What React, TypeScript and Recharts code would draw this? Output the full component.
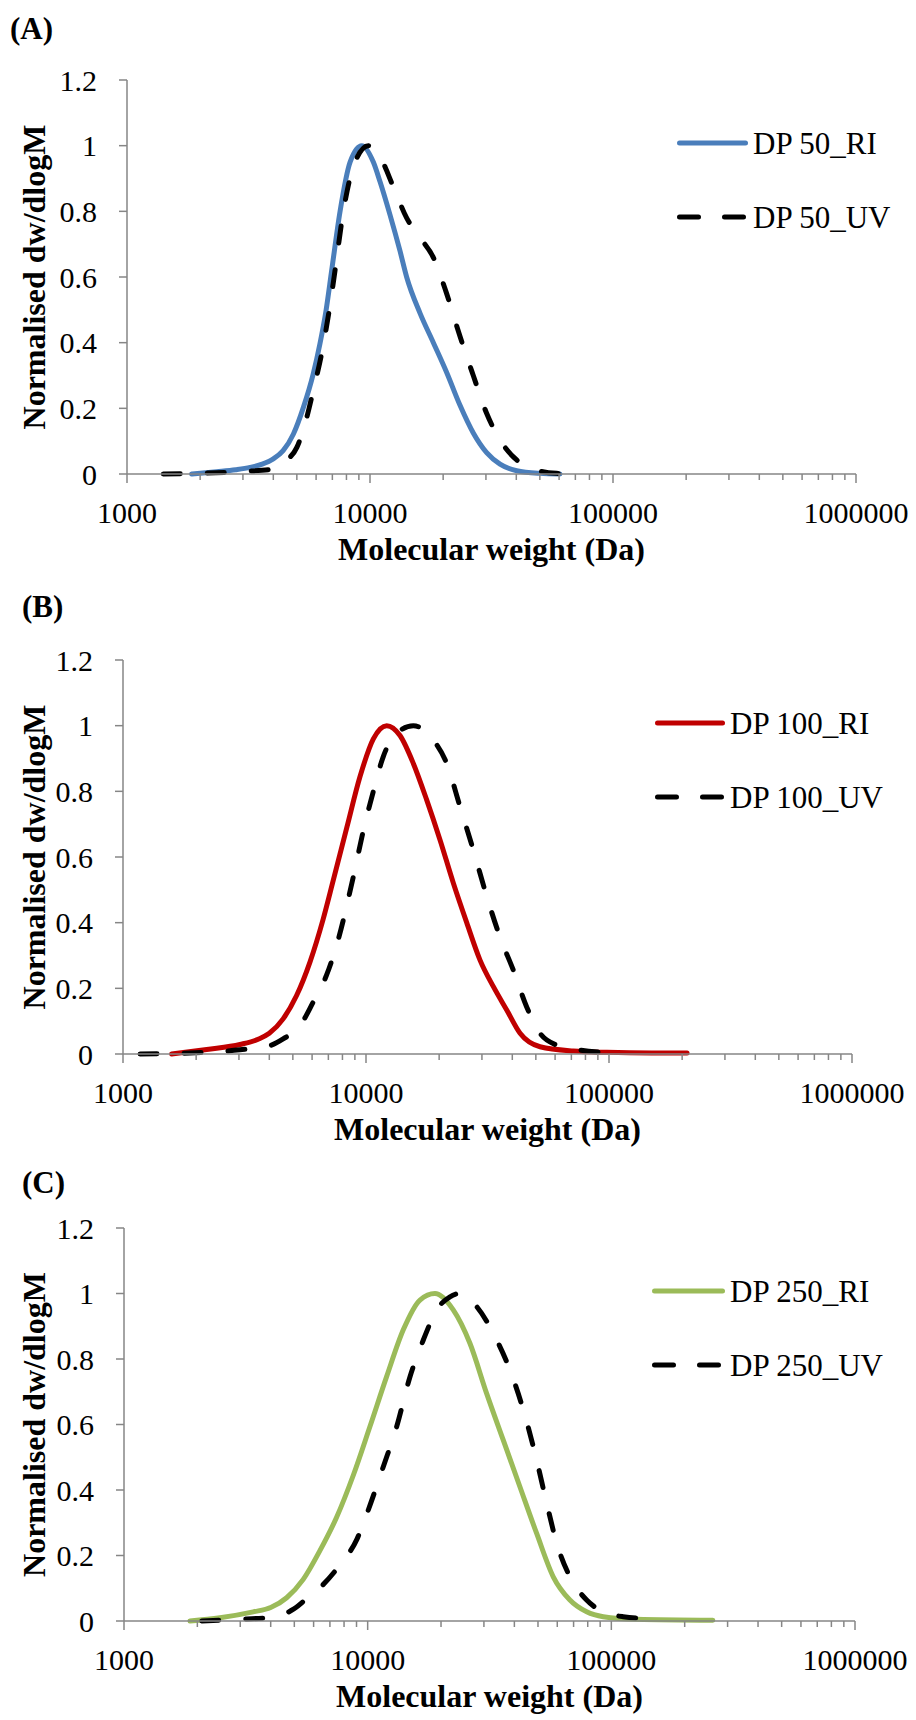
import React from 'react';
import { LineChart, Line, XAxis, YAxis, Legend, Label } from 'recharts';

// molecular weight (Da) vs normalised dw/dlogM
const dp50RI: [number, number][] = [
  [1845, 0], [2340, 0.007], [2800, 0.013], [3210, 0.02], [3600, 0.03], [4000, 0.046],
  [4390, 0.071], [4840, 0.122], [5320, 0.203], [5840, 0.305], [6220, 0.396], [6600, 0.5],
  [6955, 0.62], [7530, 0.8], [8280, 0.95], [9250, 1.0], [10320, 0.95], [11000, 0.89],
  [12080, 0.79], [13280, 0.68], [14150, 0.6], [16060, 0.49], [18230, 0.4], [20660, 0.31],
  [23440, 0.21], [26610, 0.125], [30200, 0.065], [34280, 0.03], [40160, 0.01], [50000, 0.002],
  [60500, 0],
];
const dp50UV: [number, number][] = [
  [1410, 0], [2000, 0.002], [3000, 0.008], [4000, 0.015], [4500, 0.04], [5000, 0.081],
  [5495, 0.173], [5840, 0.254], [6320, 0.366], [6800, 0.5], [7180, 0.62], [7770, 0.8],
  [8540, 0.936], [9840, 1.0], [10990, 0.966], [12470, 0.875], [14150, 0.78], [16060, 0.72],
  [18210, 0.66], [20660, 0.55], [23440, 0.42], [26610, 0.3], [30190, 0.185], [34260, 0.104],
  [40140, 0.043], [46980, 0.015], [58610, 0.002], [73100, 0],
];
const dp100RI: [number, number][] = [
  [1585, 0], [2210, 0.014], [3030, 0.029], [3600, 0.045], [4000, 0.063], [4560, 0.107],
  [5180, 0.178], [5880, 0.28], [6660, 0.41], [7340, 0.53], [8340, 0.69], [9450, 0.845],
  [10720, 0.96], [12170, 1.0], [13800, 0.97], [15660, 0.885], [17770, 0.774], [20170, 0.652],
  [22890, 0.52], [25970, 0.4], [29460, 0.286], [33440, 0.205], [37940, 0.134], [43050, 0.063],
  [52030, 0.022], [71300, 0.009], [97900, 0.005], [150000, 0.003], [209500, 0.003],
];
const dp100UV: [number, number][] = [
  [1175, 0], [2210, 0.005], [3030, 0.013], [4000, 0.025], [4560, 0.046], [5350, 0.086],
  [6050, 0.157], [6880, 0.24], [7560, 0.33], [8870, 0.54], [9750, 0.68], [10720, 0.8],
  [11780, 0.906], [13370, 0.977], [15660, 1.0], [18930, 0.956], [21480, 0.885], [24380, 0.753],
  [27670, 0.62], [31400, 0.48], [35560, 0.357], [40360, 0.256], [45800, 0.144], [52030, 0.063],
  [60950, 0.027], [76000, 0.012], [94400, 0.005],
];
const dp250RI: [number, number][] = [
  [1865, 0], [2475, 0.01], [3390, 0.028], [4000, 0.041], [4650, 0.071], [5440, 0.127],
  [6360, 0.214], [7450, 0.316], [8730, 0.445], [10210, 0.593], [11960, 0.746],
  [14000, 0.889], [16390, 0.98], [18890, 1.0], [22450, 0.95], [26280, 0.848], [30770, 0.695],
  [35990, 0.553], [42150, 0.41], [49340, 0.268], [57760, 0.135], [67600, 0.064], [79200, 0.028],
  [92700, 0.013], [127000, 0.005], [261000, 0.002],
];
const dp250UV: [number, number][] = [
  [2085, 0], [2900, 0.005], [4000, 0.011], [4960, 0.036], [5650, 0.07], [6500, 0.108],
  [7700, 0.172], [9040, 0.25], [9900, 0.325], [11590, 0.471], [13150, 0.593], [14920, 0.746],
  [16920, 0.858], [19200, 0.95], [21770, 0.99], [23950, 1.0], [28020, 0.96], [32800, 0.878],
  [38380, 0.766], [43550, 0.644], [49340, 0.492], [54270, 0.36], [59700, 0.237], [67600, 0.135],
  [79200, 0.064], [92700, 0.028], [111900, 0.013], [161600, 0.005],
];

const yTicks = [0, 0.2, 0.4, 0.6, 0.8, 1, 1.2];
const xMajorTicks = [1000, 10000, 100000, 1000000];
const xMajorLabels = ['1000', '10000', '100000', '1000000'];
const minorSteps = [2, 3, 4, 5, 6, 7, 8, 9];
const xAllTicks = [
  ...xMajorTicks,
  ...xMajorTicks.slice(0, 3).flatMap((d) => minorSteps.map((k) => d * k)),
].sort((a, b) => a - b);

const FONT = '"Liberation Serif", "Times New Roman", serif';
const AXIS = '#868686';
const DASH = '17 27';
const LINE_W = 5;

const toPts = (arr: [number, number][]) => arr.map(([m, v]) => ({ m, v }));

const panels = [
  {
    tag: '(A)', tagX: 10, tagY: 30, top: 0, height: 580, marginTop: 80, plotH: 394, left: 127, right: 856,
    legendX: 677, legendLen: 71,
    series: [
      { name: 'DP 50_RI', color: '#4A7EBB', data: dp50RI, dashed: false },
      { name: 'DP 50_UV', color: '#000000', data: dp50UV, dashed: true },
    ],
  },
  {
    tag: '(B)', tagX: 22, tagY: 608, top: 580, height: 570, marginTop: 80, plotH: 394, left: 123, right: 852,
    legendX: 655, legendLen: 70,
    series: [
      { name: 'DP 100_RI', color: '#C00000', data: dp100RI, dashed: false },
      { name: 'DP 100_UV', color: '#000000', data: dp100UV, dashed: true },
    ],
  },
  {
    tag: '(C)', tagX: 22, tagY: 1184, top: 1150, height: 570, marginTop: 78, plotH: 393, left: 124, right: 855,
    legendX: 652, legendLen: 73,
    series: [
      { name: 'DP 250_RI', color: '#9BBB59', data: dp250RI, dashed: false },
      { name: 'DP 250_UV', color: '#000000', data: dp250UV, dashed: true },
    ],
  },
];

const XTick = (props: any) => {
  const { x, y, payload } = props;
  const idx = xMajorTicks.indexOf(payload.value);
  const major = idx >= 0;
  return (
    <g>
      <line x1={x} x2={x} y1={y} y2={y + (major ? 9 : 6)} stroke={AXIS} strokeWidth={1.5} />
      {major && (
        <text x={x} y={y + 49} textAnchor="middle" fontSize={30} fontFamily={FONT} fill="#000">
          {xMajorLabels[idx]}
        </text>
      )}
    </g>
  );
};

function Panel({ cfg }: { cfg: (typeof panels)[number] }) {
  const xAxisH = cfg.height - cfg.marginTop - cfg.plotH;
  return (
    <div style={{ position: 'absolute', left: 0, top: cfg.top }}>
      <LineChart
        width={916}
        height={cfg.height}
        margin={{ top: cfg.marginTop, right: 916 - cfg.right, bottom: 0, left: 0 }}
      >
        <XAxis
          dataKey="m"
          type="number"
          scale="log"
          domain={[1000, 1000000]}
          allowDataOverflow
          ticks={xAllTicks}
          interval={0}
          height={xAxisH}
          tick={<XTick />}
          tickSize={0}
          tickMargin={0}
          tickLine={false}
          axisLine={{ stroke: AXIS, strokeWidth: 1.5 }}
        >
          <Label
            content={(p: any) => {
              const vb = p.viewBox;
              return (
                <text x={vb.x + vb.width / 2} y={vb.y + 86} textAnchor="middle" fontSize={32}
                  fontWeight="bold" fontFamily={FONT} fill="#000">
                  Molecular weight (Da)
                </text>
              );
            }}
          />
        </XAxis>
        <YAxis
          type="number"
          domain={[0, 1.2]}
          ticks={yTicks}
          interval={0}
          width={cfg.left}
          tickSize={8}
          tickMargin={22}
          tick={{ fill: '#000', fontSize: 30, fontFamily: FONT }}
          tickLine={{ stroke: AXIS, strokeWidth: 1.5 }}
          axisLine={{ stroke: AXIS, strokeWidth: 1.5 }}
        >
          <Label
            content={(p: any) => {
              const vb = p.viewBox;
              const cy = vb.y + vb.height / 2;
              return (
                <text x={45} y={cy} transform={`rotate(-90 45 ${cy})`} textAnchor="middle" fontSize={32}
                  fontWeight="bold" fontFamily={FONT} fill="#000">
                  Normalised dw/dlogM
                </text>
              );
            }}
          />
        </YAxis>
        <Legend
          layout="vertical"
          align="center"
          verticalAlign="middle"
          wrapperStyle={{ left: cfg.legendX, top: cfg.marginTop + 43, width: 240, height: 120 }}
          content={() => (
            <svg width={240} height={120}>
              {cfg.series.map((s, i) => (
                <g key={s.name}>
                  <line x1={2.5} x2={cfg.legendLen - 2.5} y1={20 + i * 74} y2={20 + i * 74} stroke={s.color}
                    strokeWidth={LINE_W} strokeLinecap="round" strokeDasharray={s.dashed ? '19 26' : undefined} />
                  <text x={cfg.legendLen + 5} y={31 + i * 74} fontSize={31} fontFamily={FONT} fill="#000">
                    {s.name}
                  </text>
                </g>
              ))}
            </svg>
          )}
        />
        {cfg.series.map((s) => (
          <Line
            key={s.name}
            name={s.name}
            data={toPts(s.data)}
            dataKey="v"
            type="monotone"
            stroke={s.color}
            strokeWidth={LINE_W}
            strokeLinecap="round"
            strokeDasharray={s.dashed ? DASH : undefined}
            dot={false}
            activeDot={false}
            isAnimationActive={false}
          />
        ))}
      </LineChart>
      <div
        style={{
          position: 'absolute', left: cfg.tagX, top: cfg.tagY - cfg.top - 17,
          fontFamily: FONT, fontWeight: 'bold', fontSize: 31, lineHeight: '31px', color: '#000',
        }}
      >
        {cfg.tag}
      </div>
    </div>
  );
}

export default function App() {
  return (
    <div style={{ position: 'absolute', left: 0, top: 0, width: 916, height: 1720, background: '#fff' }}>
      {panels.map((p) => (
        <Panel key={p.tag} cfg={p} />
      ))}
    </div>
  );
}
